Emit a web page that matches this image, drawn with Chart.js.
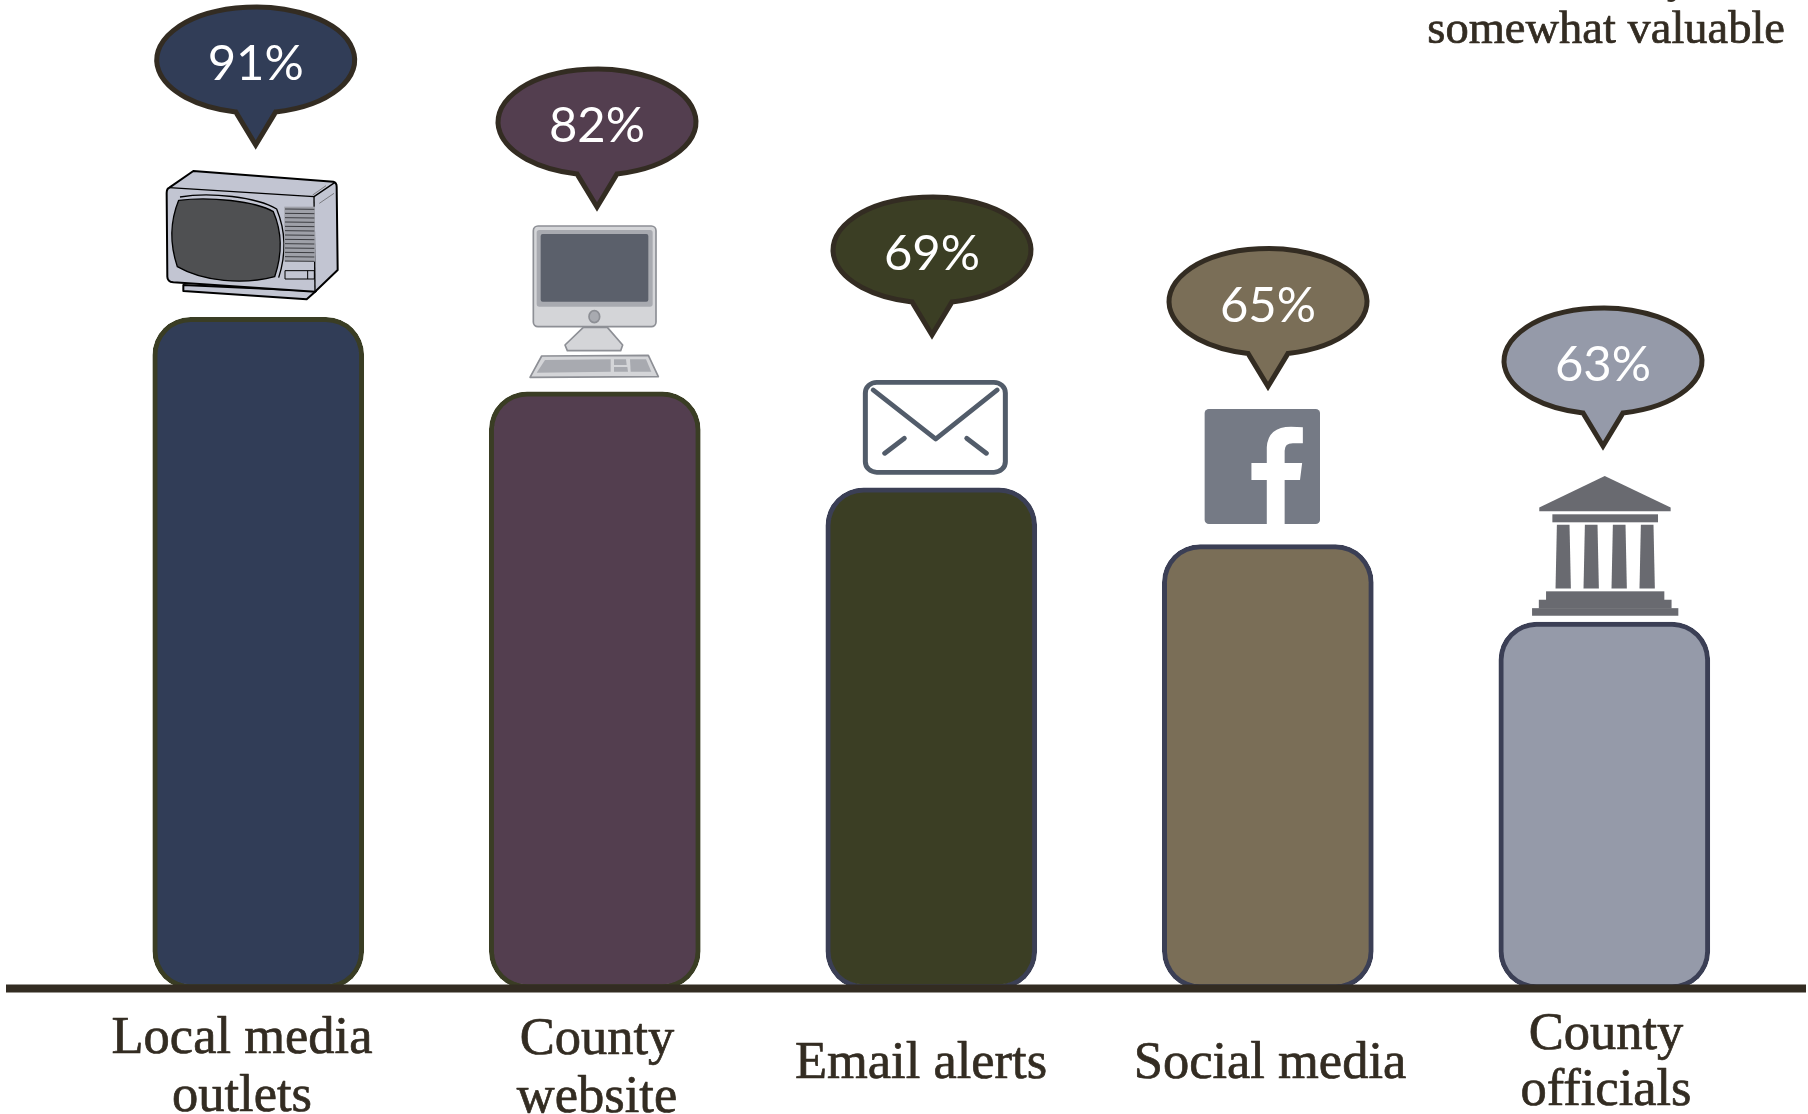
<!DOCTYPE html>
<html>
<head>
<meta charset="utf-8">
<script src="https://cdn.jsdelivr.net/npm/chart.js@4"></script>
<style>
  html, body { margin: 0; padding: 0; background: #fff; overflow: hidden; }
  canvas { display: block; }
</style>
</head>
<body>
<canvas id="valueChart" width="1808" height="1114"></canvas>
<script>
// data
const categories = [["Local media", "outlets"], ["County", "website"], ["Email alerts"], ["Social media"], ["County", "officials"]];
const percentLabels = [91, 82, 69, 65, 63];
// the bars in the picture are not to scale with their labels, so heights are kept apart
const drawnHeights = [91, 80.9, 67.9, 60.2, 49.7];
const barColors = ["#313d57", "#533e4f", "#3b3e24", "#7a6e57", "#959aa9"];
const barBorders = ["#3a3d24", "#3a3d24", "#3b3f55", "#3b3f55", "#3b3f55"];
const captionLines = ["somewhat valuable"];

const INK = "#332c22";
const SERIF = "'Liberation Serif', serif";

// annotation layout, in page pixels
const bubbleX = [255.7, 597, 932, 1268, 1603];
const bubbleY = [60, 122, 250, 301.5, 361];
const labelX = [242, 597, 921, 1270, 1606];
const labelBaseline = [1053, 1054, 1078, 1078, 1049];
const labelLineGap = [58, 58, 0, 0, 56];

function drawBubble(ctx, cx, cy, fill, text) {
  const rx = 99, ry = 53, tail = 20, tipY = cy + 85;
  const a = Math.acos(tail / rx);
  ctx.beginPath();
  ctx.ellipse(cx, cy, rx, ry, 0, a, Math.PI - a, true);
  ctx.lineTo(cx, tipY);
  ctx.closePath();
  ctx.fillStyle = fill;
  ctx.fill();
  ctx.strokeStyle = INK;
  ctx.lineWidth = 5;
  ctx.lineJoin = "miter";
  ctx.stroke();
  ctx.fillStyle = "#fff";
  ctx.font = "49px Lato, sans-serif";
  ctx.textAlign = "center";
  ctx.textBaseline = "alphabetic";
  ctx.fillText(text, cx, cy + 20);
}

function poly(ctx, pts, close) {
  ctx.beginPath();
  pts.forEach((p, i) => i ? ctx.lineTo(p[0], p[1]) : ctx.moveTo(p[0], p[1]));
  if (close !== false) ctx.closePath();
}

function drawTv(ctx) {
  ctx.save();
  ctx.translate(160, 165);
  ctx.scale(1 / 3, 1 / 3);
  ctx.strokeStyle = "#000";
  ctx.lineJoin = "round";
  ctx.fillStyle = "#c2c5d2";
  ctx.lineWidth = 6;
  poly(ctx, [[70, 360], [70, 378], [440, 403], [468, 378]]);
  ctx.fill(); ctx.stroke();
  ctx.beginPath();
  ctx.moveTo(28, 68);
  ctx.lineTo(100, 18);
  ctx.lineTo(520, 50);
  ctx.quadraticCurveTo(530, 52, 530, 65);
  ctx.lineTo(533, 315);
  ctx.lineTo(465, 380);
  ctx.lineTo(40, 352);
  ctx.quadraticCurveTo(22, 350, 22, 335);
  ctx.lineTo(20, 85);
  ctx.quadraticCurveTo(20, 70, 28, 68);
  ctx.closePath();
  ctx.fill(); ctx.stroke();
  ctx.lineWidth = 4;
  poly(ctx, [[28, 68], [462, 95], [525, 52]], false);
  ctx.stroke();
  poly(ctx, [[462, 95], [465, 380]], false);
  ctx.stroke();
  ctx.lineWidth = 2;
  ctx.strokeStyle = "#555";
  poly(ctx, [[458, 90], [498, 62]], false); ctx.stroke();
  poly(ctx, [[478, 115], [522, 85]], false); ctx.stroke();
  // screen
  ctx.strokeStyle = "#000";
  ctx.lineWidth = 4;
  ctx.beginPath();
  ctx.moveTo(60, 96);
  ctx.bezierCurveTo(150, 80, 290, 96, 350, 132);
  ctx.bezierCurveTo(378, 200, 378, 270, 356, 338);
  ctx.stroke();
  ctx.fillStyle = "#4f5052";
  ctx.beginPath();
  ctx.moveTo(56, 106);
  ctx.bezierCurveTo(150, 94, 285, 108, 340, 140);
  ctx.bezierCurveTo(366, 200, 366, 270, 344, 335);
  ctx.bezierCurveTo(250, 360, 130, 350, 52, 305);
  ctx.bezierCurveTo(30, 240, 30, 170, 56, 106);
  ctx.closePath();
  ctx.fill(); ctx.stroke();
  // grille
  ctx.fillStyle = "#9ea0a8";
  ctx.fillRect(373, 125, 92, 165);
  ctx.strokeStyle = "#3c3d42";
  ctx.lineWidth = 3;
  for (let y = 132; y < 290; y += 13) {
    ctx.beginPath(); ctx.moveTo(375, y); ctx.lineTo(463, y + 1); ctx.stroke();
  }
  // buttons
  ctx.strokeStyle = "#000";
  ctx.lineWidth = 3;
  ctx.strokeRect(375, 317, 88, 25);
  ctx.beginPath(); ctx.moveTo(443, 317); ctx.lineTo(443, 342); ctx.stroke();
  ctx.restore();
}

function drawComputer(ctx) {
  ctx.save();
  ctx.translate(520, 220);
  ctx.scale(1 / 3, 1 / 3);
  ctx.lineJoin = "round";
  ctx.strokeStyle = "#8d8f95";
  ctx.fillStyle = "#d4d5d8";
  ctx.lineWidth = 5;
  poly(ctx, [[190, 322], [135, 375], [142, 392], [302, 392], [308, 375], [262, 322]]);
  ctx.fill(); ctx.stroke();
  poly(ctx, [[65, 408], [385, 406], [415, 470], [30, 472]]);
  ctx.fill(); ctx.stroke();
  ctx.beginPath();
  ctx.roundRect(40, 18, 368, 302, 14);
  ctx.fill(); ctx.stroke();
  ctx.fillStyle = "#a8aab0";
  ctx.beginPath();
  ctx.roundRect(50, 30, 348, 230, 8);
  ctx.fill();
  ctx.fillStyle = "#5b606b";
  ctx.beginPath();
  ctx.roundRect(62, 42, 323, 203, 6);
  ctx.fill();
  ctx.fillStyle = "#a8aab0";
  ctx.beginPath();
  ctx.ellipse(223, 290, 16, 18, 0, 0, Math.PI * 2);
  ctx.fill(); ctx.stroke();
  // keys
  poly(ctx, [[75, 420], [272, 418], [272, 455], [50, 458]]); ctx.fill();
  poly(ctx, [[282, 418], [318, 418], [320, 435], [282, 435]]); ctx.fill();
  poly(ctx, [[282, 441], [322, 441], [324, 455], [282, 455]]); ctx.fill();
  poly(ctx, [[330, 418], [378, 418], [394, 455], [332, 455]]); ctx.fill();
  ctx.restore();
}

function drawEnvelope(ctx) {
  ctx.save();
  ctx.translate(800, 360);
  ctx.scale(1 / 2.8, 1 / 3);
  ctx.strokeStyle = "#525c6a";
  ctx.lineWidth = 14;
  ctx.lineCap = "round";
  ctx.lineJoin = "round";
  ctx.beginPath();
  ctx.roundRect(183, 67, 392, 270, 32);
  ctx.stroke();
  poly(ctx, [[205, 90], [380, 237], [552, 90]], false); ctx.stroke();
  poly(ctx, [[237, 280], [292, 235]], false); ctx.stroke();
  poly(ctx, [[467, 235], [522, 280]], false); ctx.stroke();
  ctx.restore();
}

function drawFacebook(ctx) {
  ctx.save();
  ctx.translate(800, 360);
  ctx.scale(1 / 2.8, 1 / 3);
  ctx.fillStyle = "#757a85";
  ctx.beginPath();
  ctx.roundRect(1133, 147, 323, 345, 12);
  ctx.fill();
  ctx.fillStyle = "#fff";
  ctx.beginPath();
  ctx.moveTo(1307, 492);
  ctx.lineTo(1307, 360);
  ctx.lineTo(1264, 360);
  ctx.lineTo(1264, 309);
  ctx.lineTo(1307, 309);
  ctx.lineTo(1307, 262);
  ctx.quadraticCurveTo(1310, 200, 1375, 200);
  ctx.lineTo(1408, 202);
  ctx.lineTo(1408, 250);
  ctx.lineTo(1380, 250);
  ctx.quadraticCurveTo(1357, 250, 1357, 272);
  ctx.lineTo(1357, 309);
  ctx.lineTo(1406, 309);
  ctx.lineTo(1400, 360);
  ctx.lineTo(1357, 360);
  ctx.lineTo(1357, 492);
  ctx.closePath();
  ctx.fill();
  ctx.restore();
}

function drawBuilding(ctx) {
  ctx.save();
  ctx.translate(1100, 0);
  ctx.scale(1 / 2.215, 1 / 2.376);
  ctx.fillStyle = "#696a70";
  poly(ctx, [[973, 1206], [1118, 1131], [1264, 1206], [1264, 1215], [973, 1215]]); ctx.fill();
  ctx.fillRect(1002, 1222, 234, 19);
  [1026, 1088, 1150, 1212].forEach(c => {
    poly(ctx, [[c - 14, 1247], [c + 14, 1247], [c + 17, 1398], [c - 17, 1398]]);
    ctx.fill();
  });
  ctx.fillRect(988, 1405, 262, 21);
  ctx.fillRect(972, 1425, 294, 21);
  ctx.fillRect(957, 1445, 324, 18);
  ctx.restore();
}

// serif text in the picture is a little heavier than Liberation Serif regular
function heavyText(ctx, text, x, y) {
  ctx.fillText(text, x, y);
  ctx.strokeText(text, x, y);
}

const decorations = {
  id: "decorations",
  afterDatasetsDraw(chart) {
    const ctx = chart.ctx;
    ctx.save();
    // baseline
    ctx.fillStyle = INK;
    ctx.fillRect(6, 984.5, 1800, 8);
    drawTv(ctx);
    drawComputer(ctx);
    drawEnvelope(ctx);
    drawFacebook(ctx);
    drawBuilding(ctx);
    percentLabels.forEach((v, i) => drawBubble(ctx, bubbleX[i], bubbleY[i], barColors[i], v + "%"));
    // category labels
    ctx.fillStyle = INK;
    ctx.strokeStyle = INK;
    ctx.lineWidth = 0.7;
    ctx.lineJoin = "round";
    ctx.textAlign = "center";
    ctx.textBaseline = "alphabetic";
    ctx.font = "52.5px " + SERIF;
    categories.forEach((lines, i) => {
      lines.forEach((line, j) => heavyText(ctx, line, labelX[i], labelBaseline[i] + j * labelLineGap[i]));
    });
    // caption, cut off by the top of the picture
    ctx.font = "46.5px " + SERIF;
    ctx.textAlign = "right";
    captionLines.forEach(line => heavyText(ctx, line, 1785, 43));
    ctx.textAlign = "center";
    ctx.fillText("y", 1678, -8);
    ctx.restore();
  }
};

new Chart(document.getElementById("valueChart"), {
  type: "bar",
  data: {
    labels: categories,
    datasets: [{
      data: drawnHeights,
      backgroundColor: barColors,
      borderColor: barBorders,
      borderWidth: 5,
      borderRadius: 38,
      borderSkipped: false,
      barThickness: 211,
    }]
  },
  options: {
    responsive: false,
    animation: false,
    layout: { padding: { left: 90, right: 35.4, top: 0, bottom: 125 } },
    scales: {
      x: { display: false, grid: { display: false } },
      y: { display: false, min: 0, max: 134, grid: { display: false } },
    },
    plugins: {
      legend: { display: false },
      tooltip: { enabled: false },
    },
  },
  plugins: [decorations],
});
</script>
</body>
</html>
